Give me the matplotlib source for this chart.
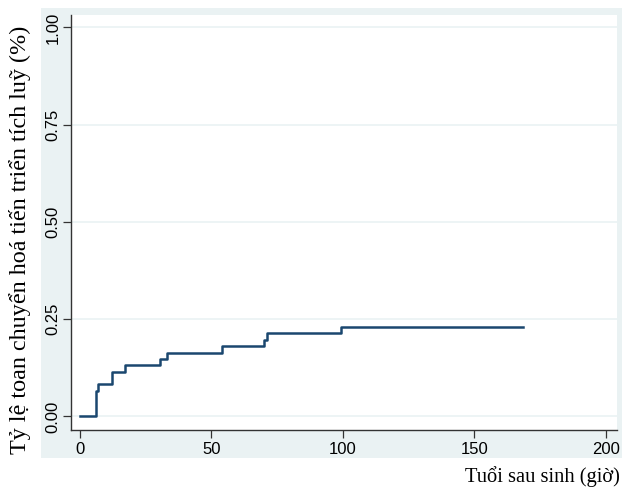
import matplotlib
matplotlib.use("Agg")
import matplotlib.pyplot as plt
from matplotlib.patches import Rectangle

# thời điểm (giờ) và tỷ lệ tích luỹ
gio = [0, 6, 7, 12, 17, 30.3, 33, 54.2, 70.1, 71.2, 99.2, 168.4]
ty_le = [0.0, 0.066, 0.083, 0.115, 0.132, 0.147, 0.164, 0.181, 0.197, 0.214, 0.230, 0.230]
x_ticks = [0, 50, 100, 150, 200]
y_ticks = [0.00, 0.25, 0.50, 0.75, 1.00]

nen = '#EAF2F3'
duong = '#1A476F'

fig = plt.figure(figsize=(6.22, 4.92), dpi=100)
W, H = 622, 492

# nền xám xanh kiểu Stata
fig.patches.append(Rectangle((41 / W, 1 - 458 / H), 1 - 41 / W, (458 - 8) / H,
                             transform=fig.transFigure, facecolor=nen,
                             edgecolor='none', zorder=-10))

ax = fig.add_axes([71 / W, 1 - 430 / H, (617 - 71) / W, (430 - 15) / H])
ax.set_zorder(1)
ax.set_facecolor('white')
ax.step(gio, ty_le, where='post', color=duong, lw=1.8)

ax.set_xlim(-3.4, 204.2)
ax.set_ylim(-0.035, 1.032)
ax.set_xticks(x_ticks)
ax.set_xticklabels([str(v) for v in x_ticks])
ax.set_yticks(y_ticks)
ax.set_yticklabels([f'{v:.2f}' for v in y_ticks], rotation=90, va='center')
for lab in ax.get_xticklabels() + ax.get_yticklabels():
    lab.set_fontfamily('Liberation Sans')
    lab.set_fontsize(12)
ax.tick_params(length=6, width=0.9, color='#333333', pad=3)
ax.tick_params(axis='y', pad=1.5)
ax.grid(axis='y', color=nen, lw=1.2)
ax.set_axisbelow(True)
for s in ['top', 'right']:
    ax.spines[s].set_visible(False)
for s in ['left', 'bottom']:
    ax.spines[s].set_color('#333333')
    ax.spines[s].set_linewidth(1.0)

fig.text(20 / W, 1 - 240 / H, 'Tỷ lệ toan chuyển hoá tiến triển tích luỹ (%)',
         rotation=90, ha='center', va='center', fontsize=17.4,
         fontfamily='Liberation Serif')
fig.text(620 / W, 1 - 477 / H, 'Tuổi sau sinh (giờ)', ha='right', va='center',
         fontsize=14.8, fontfamily='Liberation Serif')

fig.savefig('out.png', dpi=100, facecolor='white')
